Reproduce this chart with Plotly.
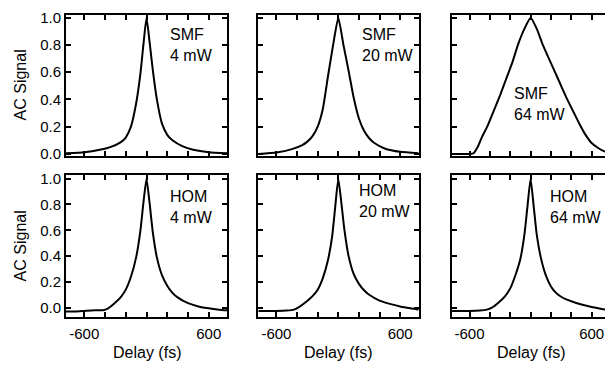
import plotly.graph_objects as go

# ---- data ----
x_smf4 = [-776, -600, -450, -350, -250, -200, -150, -100, -60, -30, 0, 30, 60, 100, 150, 200, 250, 350, 450, 600, 780]
y_smf4 = [0.005, 0.012, 0.03, 0.05, 0.085, 0.12, 0.2, 0.37, 0.58, 0.8, 1.0, 0.82, 0.62, 0.40, 0.22, 0.14, 0.10, 0.055, 0.03, 0.012, 0.005]

x_smf20 = [-776, -600, -450, -350, -300, -250, -200, -150, -100, -50, 0, 50, 100, 150, 200, 250, 300, 350, 450, 600, 780]
y_smf20 = [0.0, 0.01, 0.035, 0.065, 0.09, 0.13, 0.2, 0.33, 0.57, 0.8, 1.0, 0.8, 0.61, 0.41, 0.26, 0.17, 0.115, 0.08, 0.04, 0.015, 0.005]

x_smf64 = [-776, -600, -560, -520, -480, -420, -360, -300, -240, -180, -120, -60, 0, 60, 120, 180, 240, 300, 360, 420, 480, 540, 600, 660, 720, 780]
y_smf64 = [0.0, 0.0, 0.005, 0.05, 0.12, 0.21, 0.32, 0.43, 0.55, 0.67, 0.81, 0.92, 1.0, 0.92, 0.80, 0.70, 0.60, 0.50, 0.40, 0.31, 0.22, 0.14, 0.08, 0.045, 0.02, 0.01]

x_hom4 = [-776, -700, -600, -500, -420, -370, -300, -250, -200, -150, -100, -60, -30, 0, 30, 60, 100, 150, 200, 250, 300, 400, 500, 600, 700, 780]
y_hom4 = [-0.03, -0.03, -0.025, -0.02, -0.02, -0.005, 0.04, 0.08, 0.14, 0.24, 0.39, 0.59, 0.81, 1.0, 0.81, 0.59, 0.39, 0.25, 0.17, 0.115, 0.08, 0.035, 0.01, -0.005, -0.015, -0.02]

x_hom20 = [-776, -600, -500, -430, -390, -320, -250, -200, -150, -100, -60, -30, 0, 30, 60, 100, 150, 200, 250, 300, 400, 500, 600, 700, 780]
y_hom20 = [-0.025, -0.025, -0.022, -0.015, 0.0, 0.04, 0.09, 0.14, 0.23, 0.37, 0.55, 0.78, 1.0, 0.81, 0.6, 0.4, 0.26, 0.185, 0.135, 0.1, 0.055, 0.03, 0.01, -0.005, -0.015]

x_hom64 = [-776, -600, -500, -430, -380, -300, -250, -200, -150, -100, -60, -30, 0, 30, 60, 100, 150, 200, 250, 300, 350, 400, 500, 600, 700, 780]
y_hom64 = [-0.025, -0.025, -0.022, -0.015, 0.0, 0.05, 0.09, 0.15, 0.25, 0.38, 0.57, 0.79, 1.0, 0.79, 0.57, 0.39, 0.25, 0.165, 0.115, 0.085, 0.065, 0.05, 0.025, 0.005, -0.01, -0.02]

labels = ["SMF<br>4 mW", "SMF<br>20 mW", "SMF<br>64 mW", "HOM<br>4 mW", "HOM<br>20 mW", "HOM<br>64 mW"]
label_x = [212, 208, -180, 205, 182, 173]
label_y = [0.80, 0.80, 0.365, 0.78, 0.824, 0.78]

x_tickvals = [-600, -400, -200, 0, 200, 400, 600]
x_ticktext = ["-600", "", "", "", "", "", "600"]
y_tickvals = [0.0, 0.2, 0.4, 0.6, 0.8, 1.0]
y_ticktext = ["0.0", "0.2", "0.4", "0.6", "0.8", "1.0"]

series = [(x_smf4, y_smf4), (x_smf20, y_smf20), (x_smf64, y_smf64),
          (x_hom4, y_hom4), (x_hom20, y_hom20), (x_hom64, y_hom64)]

# ---- layout geometry (page body adds an 8 px offset) ----
OFF = 8
W, H = 613 - OFF, 366 - OFF
ml, mr, mt, mb = 66 - OFF, 1, 14 - OFF, 49
pw, ph = W - ml - mr, H - mt - mb
col_px = [(66, 228), (259, 420), (453, 612)]
row_px = [(14, 155), (175, 317)]

def px_x(p):
    return (p - OFF - ml) / pw

def px_y(p):
    return (H - mb - (p - OFF)) / ph

font = "Arial, Liberation Sans, sans-serif"
fig = go.Figure()
layout = dict(width=W, height=H, margin=dict(l=ml, r=mr, t=mt, b=mb),
              paper_bgcolor="white", plot_bgcolor="white", showlegend=False,
              font=dict(family=font, color="black", size=14))

annotations = []
for i, (xs, ys) in enumerate(series):
    r, c = divmod(i, 3)
    n = i + 1
    xa = "x" if n == 1 else f"x{n}"
    ya = "y" if n == 1 else f"y{n}"
    fig.add_trace(go.Scatter(x=xs, y=ys, mode="lines", xaxis=xa, yaxis=ya,
                             line=dict(color="black", width=2, shape="spline", smoothing=0.5)))
    xk = "xaxis" if n == 1 else f"xaxis{n}"
    yk = "yaxis" if n == 1 else f"yaxis{n}"
    layout[xk] = dict(domain=[px_x(col_px[c][0]), min(1.0, px_x(col_px[c][1]))], range=[-776, 780], anchor=ya,
                      showline=True, linewidth=2, linecolor="black", mirror="allticks",
                      ticks="inside", ticklen=5, tickwidth=1.5, tickcolor="black",
                      tickvals=x_tickvals, ticktext=x_ticktext if r == 1 else [""] * 7,
                      showgrid=False, zeroline=False, ticklabelstandoff=2,
                      tickfont=dict(size=15))
    yr = [-0.012, 1.02] if r == 0 else [-0.072, 1.025]
    layout[yk] = dict(domain=[max(0.0, px_y(row_px[r][1])), px_y(row_px[r][0])], range=yr, anchor=xa,
                      showline=True, linewidth=2, linecolor="black", mirror="allticks",
                      ticks="inside", ticklen=5, tickwidth=1.5, tickcolor="black",
                      tickvals=y_tickvals, ticktext=y_ticktext if c == 0 else [""] * 6,
                      showgrid=False, zeroline=False, tickfont=dict(size=15))
    annotations.append(dict(text=labels[i], x=label_x[i], y=label_y[i], xref=xa, yref=ya,
                            xanchor="left", yanchor="middle", align="left", showarrow=False,
                            font=dict(size=16, family=font)))
    if r == 1:
        cx = px_x(sum(col_px[c]) / 2)
        annotations.append(dict(text="Delay (fs)", x=cx, y=px_y(353), xref="paper", yref="paper",
                                xanchor="center", yanchor="middle", showarrow=False,
                                font=dict(size=16, family=font)))
    if c == 0:
        cy = px_y(sum(row_px[r]) / 2)
        annotations.append(dict(text="AC Signal", x=px_x(20), y=cy, xref="paper", yref="paper",
                                xanchor="center", yanchor="middle", textangle=-90, showarrow=False,
                                font=dict(size=16, family=font)))

layout["annotations"] = annotations
fig.update_layout(**layout)
fig.write_html("out.html")
